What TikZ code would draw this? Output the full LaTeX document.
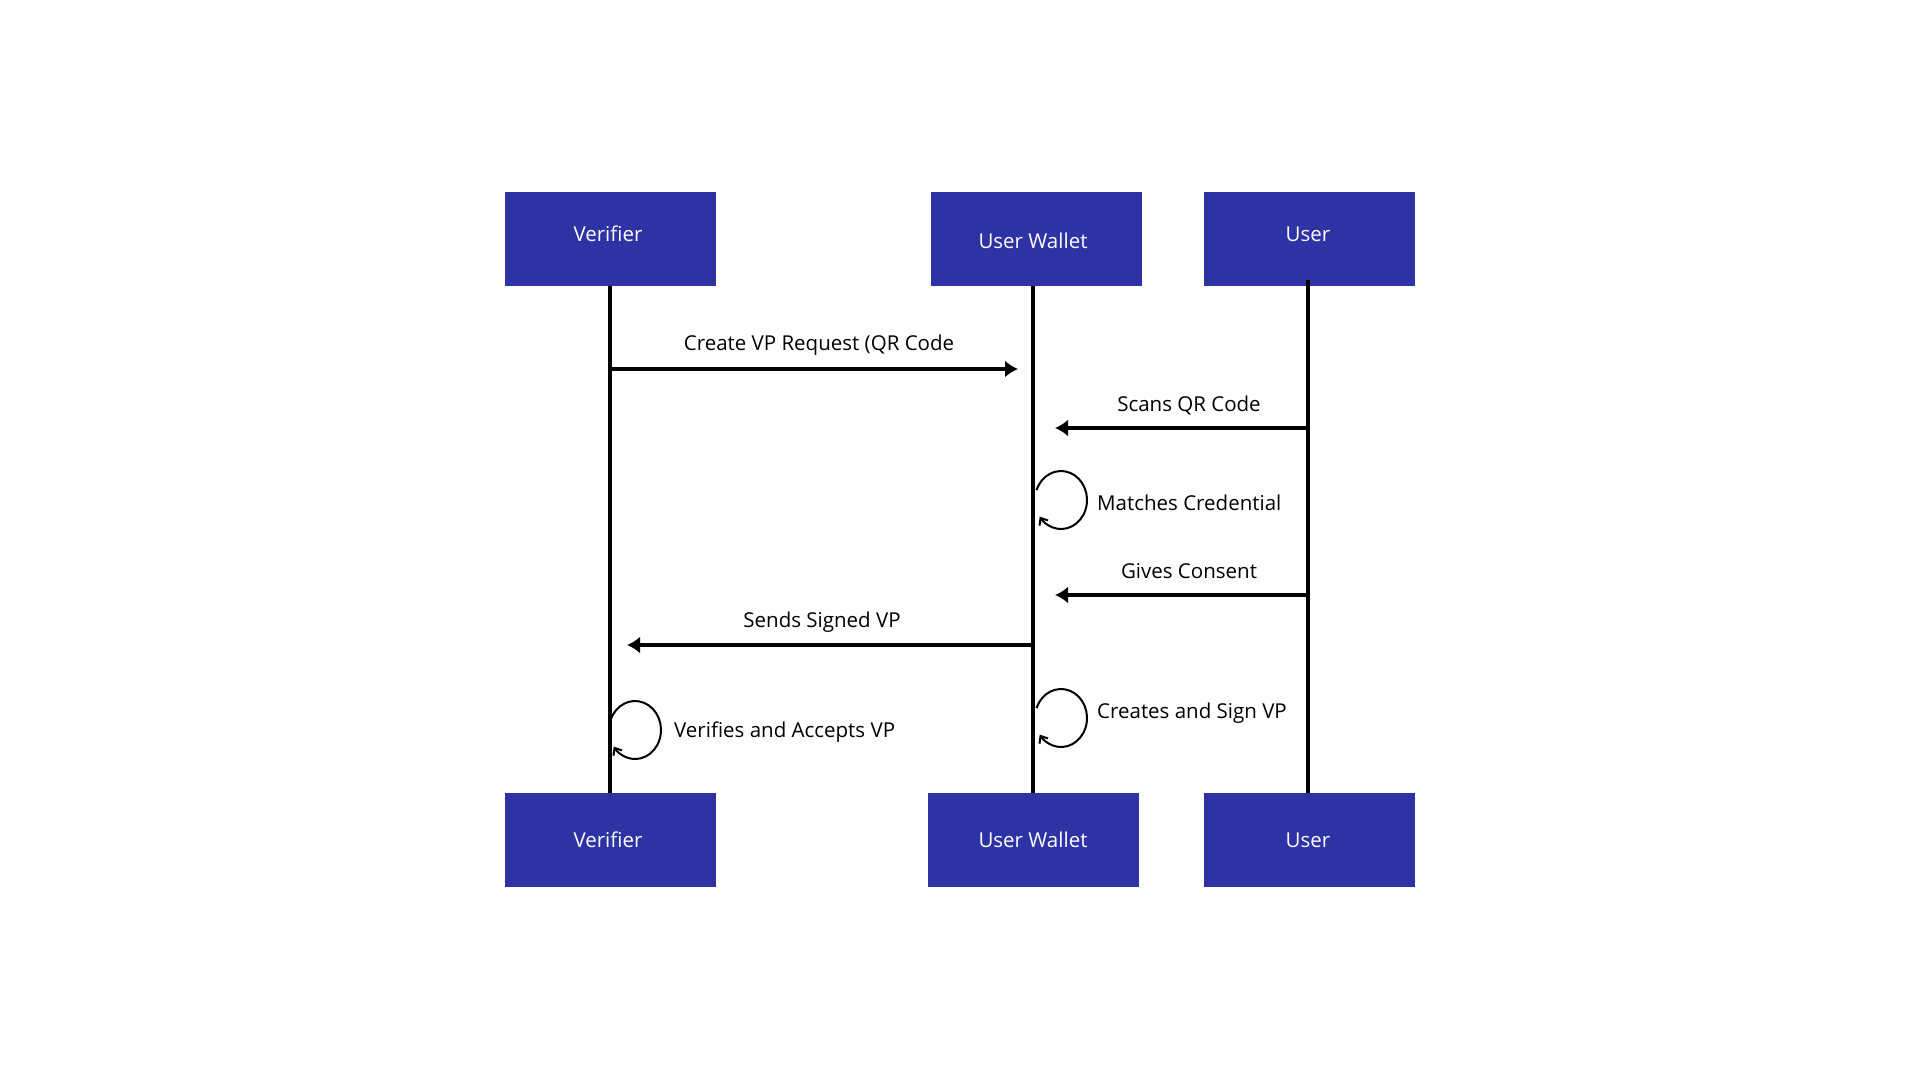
\documentclass[tikz,border=0pt]{standalone}
\usepackage{fontspec}
\setmainfont{Open Sans}
\usetikzlibrary{arrows.meta}
\definecolor{boxblue}{RGB}{45,50,165}
\begin{document}
\begin{tikzpicture}[x=1pt,y=-1pt,
  actor/.style={fill=boxblue, draw=none, minimum width=211pt, minimum height=94pt, inner sep=0pt, anchor=north west},
  alab/.style={font=\fontsize{20.5}{22}\selectfont, text=white, inner sep=0pt},
  life/.style={line width=3.6pt, black},
  msg/.style={line width=3.6pt, black, -{Latex[length=13pt,width=17pt]}},
  loopy/.style={line width=2pt, black, -{Straight Barb[length=6pt,width=10pt]}},
  lbl/.style={font=\fontsize{20.5}{24}\selectfont, text=black, inner sep=0pt}]
\path[use as bounding box, fill=white] (0,0) rectangle (1920,1080);
% participants
\node[actor] (vt) at (505,192) {};
\node[alab] (vtl) at (608,234) {Verifier};
\node[actor] (wt) at (931,192) {};
\node[alab] (wtl) at (1033,241) {User Wallet};
\node[actor] (ut) at (1204,192) {};
\node[alab] (utl) at (1308,234) {User};
\node[actor] (vb) at (505,793) {};
\node[alab] (vbl) at (608,840) {Verifier};
\node[actor] (wb) at (928,793) {};
\node[alab] (wbl) at (1033,840) {User Wallet};
\node[actor] (ub) at (1204,793) {};
\node[alab] (ubl) at (1308,840) {User};
% lifeline coordinates
\coordinate (v0) at (610,286); \coordinate (v1) at (610,793);
\coordinate (w0) at (1033,286); \coordinate (w1) at (1033,793);
\coordinate (u0) at (1308,280); \coordinate (u1) at (1308,793);
\draw[life] (v0) -- (v1);
\draw[life] (w0) -- (w1);
\draw[life] (u0) -- (u1);
% messages
\coordinate (m1s) at (610,369); \coordinate (m1e) at (1018,369);
\draw[msg] (m1s) -- (m1e);
\node[lbl] (l1) at (819,345) {Create VP Request (QR Code};
\coordinate (m2s) at (1308,428); \coordinate (m2e) at (1055,428);
\draw[msg] (m2s) -- (m2e);
\node[lbl] (l2) at (1189,405) {Scans QR Code};
\coordinate (c1) at (1061,500);
\draw[loopy] (c1) ++(-160:26 and 29) arc[start angle=-160, end angle=145, x radius=26, y radius=29];
\node[lbl, anchor=west] (l3) at (1097,503) {Matches Credential};
\coordinate (m4s) at (1308,595); \coordinate (m4e) at (1055,595);
\draw[msg] (m4s) -- (m4e);
\node[lbl] (l4) at (1189,571) {Gives Consent};
\coordinate (m5s) at (1033,645); \coordinate (m5e) at (627,645);
\draw[msg] (m5s) -- (m5e);
\node[lbl] (l5) at (822,622) {Sends Signed VP};
\coordinate (c2) at (1061,718);
\draw[loopy] (c2) ++(-160:26 and 29) arc[start angle=-160, end angle=145, x radius=26, y radius=29];
\node[lbl, anchor=west] (l6) at (1097,713) {Creates and Sign VP};
\coordinate (c3) at (635,730);
\draw[loopy] (c3) ++(-160:26 and 29) arc[start angle=-160, end angle=145, x radius=26, y radius=29];
\node[lbl, anchor=west] (l7) at (674,732) {Verifies and Accepts VP};
\end{tikzpicture}
\end{document}
